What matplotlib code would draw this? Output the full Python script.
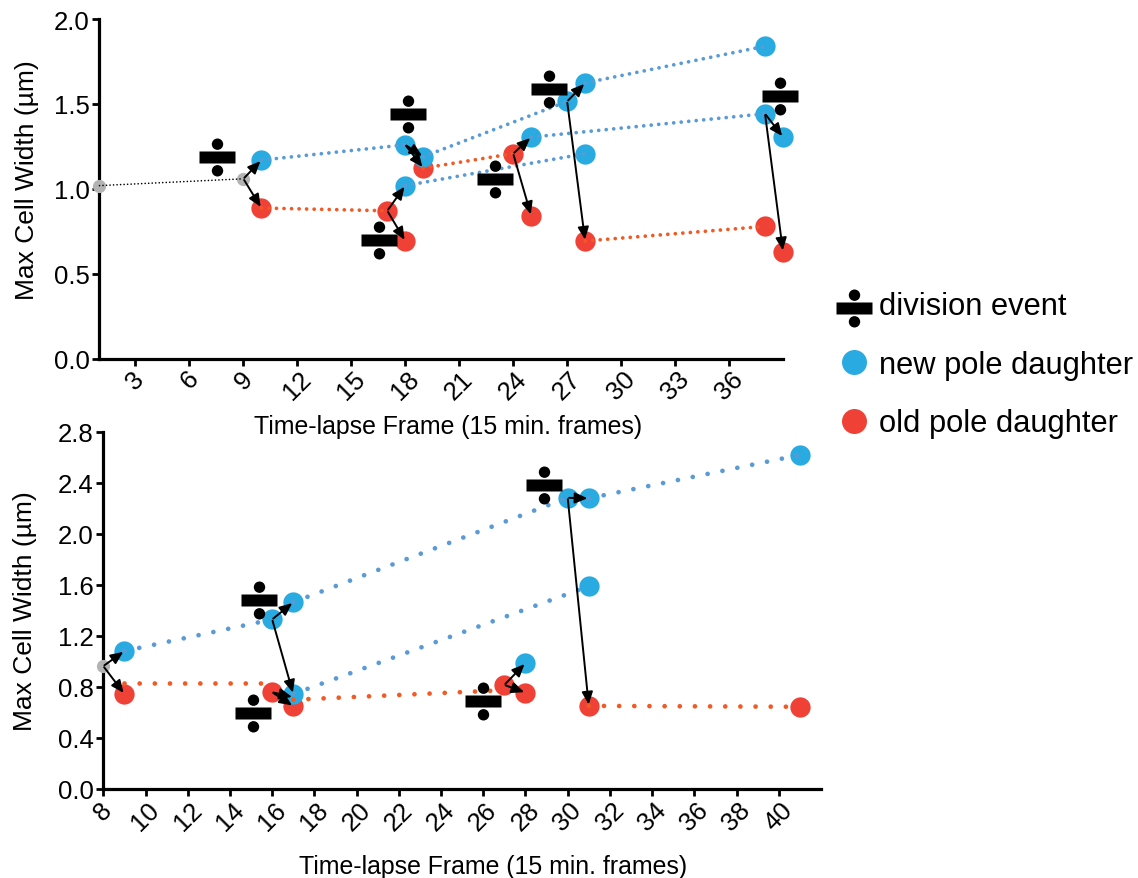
import matplotlib
matplotlib.use("Agg")
import matplotlib.pyplot as plt
from matplotlib.lines import Line2D
from matplotlib.path import Path

plt.rcParams['font.family'] = ['Liberation Sans', 'DejaVu Sans']

W, H = 1138, 879
XLABEL = "Time-lapse Frame (15 min. frames)"
YLABEL = "Max Cell Width (\u00b5m)"

# ---------- top panel ----------
top_xticks = [3, 6, 9, 12, 15, 18, 21, 24, 27, 30, 33, 36]
top_yticks = [0.0, 0.5, 1.0, 1.5, 2.0]
top_grey_x = [1, 9]
top_grey_y = [1.02, 1.06]
top_new_x = [10, 18, 18, 19, 25, 27, 28, 28, 38, 38, 39]
top_new_y = [1.17, 1.26, 1.02, 1.19, 1.305, 1.515, 1.624, 1.208, 1.84, 1.443, 1.305]
top_old_x = [10, 17, 18, 19, 24, 25, 28, 38, 39]
top_old_y = [0.888, 0.872, 0.694, 1.123, 1.208, 0.843, 0.694, 0.78, 0.631]
top_new_links = [((10, 1.17), (18, 1.26)), ((19, 1.19), (27, 1.515)),
                 ((18, 1.02), (28, 1.208)), ((25, 1.305), (38, 1.443)),
                 ((28, 1.624), (38, 1.84))]
top_old_links = [((10, 0.888), (17, 0.872)), ((19, 1.123), (24, 1.208)),
                 ((28, 0.694), (38, 0.78))]
top_arrows = [((9, 1.06), (10, 1.17)), ((9, 1.06), (10, 0.888)),
              ((17, 0.872), (18, 1.02)), ((17, 0.872), (18, 0.694)),
              ((18, 1.26), (19, 1.19)), ((18, 1.26), (19, 1.123)),
              ((24, 1.208), (25, 1.305)), ((24, 1.208), (25, 0.843)),
              ((27, 1.515), (28, 1.624)), ((27, 1.515), (28, 0.694)),
              ((38, 1.443), (39, 1.305)), ((38, 1.443), (39, 0.631))]
top_div_x = [7.55, 18.15, 16.56, 23.0, 26.0, 38.83]
top_div_y = [1.19, 1.44, 0.70, 1.057, 1.586, 1.55]

# ---------- bottom panel ----------
bot_xticks = list(range(8, 42, 2))
bot_yticks = [0.0, 0.4, 0.8, 1.2, 1.6, 2.0, 2.4, 2.8]
bot_grey_x = [8]
bot_grey_y = [0.964]
bot_new_x = [9, 16, 17, 17, 28, 30, 31, 31, 41]
bot_new_y = [1.082, 1.33, 1.465, 0.745, 0.988, 2.284, 2.28, 1.59, 2.62]
bot_old_x = [9, 16, 17, 27, 28, 31, 41]
bot_old_y = [0.745, 0.759, 0.65, 0.816, 0.756, 0.652, 0.645]
bot_new_links = [((9, 1.082), (16, 1.33)), ((17, 1.465), (30, 2.284)),
                 ((31, 2.28), (41, 2.62)), ((17, 0.745), (31, 1.59))]
bot_old_links = [((9, 0.83), (16, 0.83)), ((17, 0.70), (27, 0.775)),
                 ((31, 0.652), (41, 0.645))]
bot_arrows = [((8, 0.964), (9, 1.082)), ((8, 0.964), (9, 0.745)),
              ((16, 1.33), (17, 1.465)), ((16, 1.33), (17, 0.745)),
              ((16, 0.759), (17, 0.72)), ((16, 0.759), (17, 0.65)),
              ((27, 0.816), (28, 0.988)), ((27, 0.816), (28, 0.756)),
              ((30, 2.284), (31, 2.28)), ((30, 2.284), (31, 0.652))]
bot_div_x = [15.36, 15.1, 26.0, 28.87]
bot_div_y = [1.48, 0.597, 0.688, 2.385]

# ---------- legend ----------
legend_labels = ["division event", "new pole daughter", "old pole daughter"]

NEW_C, OLD_C, GREY_C = '#29ABE2', '#EF4136', '#B3B3B3'
NEW_L, OLD_L = '#5B9BD5', '#F15A24'


def division_marker(shift=0.0):
    """A division sign: bar plus two dots, in px-like units."""
    bar = Path([(-18, -6 + shift), (18, -6 + shift), (18, 6 + shift),
                (-18, 6 + shift), (-18, -6 + shift)],
               [Path.MOVETO, Path.LINETO, Path.LINETO, Path.LINETO, Path.CLOSEPOLY])
    c = Path.unit_circle()
    up = Path(c.vertices * 5.7 + [0, 13.3 + shift], c.codes)
    dn = Path(c.vertices * 5.7 + [0, -13.3 + shift], c.codes)
    return Path.make_compound_path(bar, up, dn)


DIV = division_marker()
DIV_MS = 2 * 19.0 * 0.72
DIV_LEG = division_marker(-5.0)
DIV_LEG_MS = 2 * 24.0 * 0.72


def px_axes(fig, l, r, t, b):
    return fig.add_axes([l / W, 1 - b / H, (r - l) / W, (b - t) / H])


def panel(ax, xlim, ylim, xticks, yticks, grey, new, old, new_links, old_links,
          arrows, div, dot_lw, dot_off, xpad, xl_x, xl_y, yl_x, yl_y):
    ax.patch.set_visible(False)
    ax.set_xlim(*xlim)
    ax.set_ylim(*ylim)
    for s in ('top', 'right'):
        ax.spines[s].set_visible(False)
    for s in ('left', 'bottom'):
        ax.spines[s].set_linewidth(2.3)
    ax.set_xticks(xticks)
    ax.set_yticks(yticks)
    ax.set_yticklabels([f"{v:.1f}" for v in yticks])
    ax.tick_params(axis='both', width=2.0, length=5, labelsize=18.5, color='k')
    ax.tick_params(axis='y', pad=2)
    ax.tick_params(axis='x', pad=xpad)
    for lab in ax.get_xticklabels():
        lab.set_rotation(45)
        lab.set_ha('center')
    ax.set_xlabel(XLABEL, fontsize=17.9)
    ax.set_ylabel(YLABEL, fontsize=19)
    ax.xaxis.set_label_coords(xl_x, xl_y)
    ax.yaxis.set_label_coords(yl_x, yl_y)

    ax.plot(*grey, 'o', color=GREY_C, ms=9.5, mew=0, clip_on=False, zorder=3)
    ax.plot(*old, 'o', color=OLD_C, ms=14.6, mew=0, clip_on=False, zorder=3)
    ax.plot(*new, 'o', color=NEW_C, ms=14.6, mew=0, clip_on=False, zorder=3.2)
    style = dict(dash_capstyle='round', clip_on=False, zorder=3.5)
    for links, col in ((new_links, NEW_L), (old_links, OLD_L)):
        for (x0, y0), (x1, y1) in links:
            ax.plot([x0, x1], [y0, y1], color=col, lw=dot_lw,
                    ls=(0, (0.01, dot_off)), **style)
    for (x0, y0), (x1, y1) in arrows:
        ax.annotate('', xy=(x1, y1), xytext=(x0, y0), zorder=5,
                    arrowprops=dict(arrowstyle='-|>,head_length=0.5,head_width=0.22',
                                    mutation_scale=15, lw=1.4, color='k',
                                    shrinkA=1, shrinkB=1))
    ax.plot(*div, ls='none', marker=DIV, ms=DIV_MS, mfc='k', mew=0,
            clip_on=False, zorder=4)


fig = plt.figure(figsize=(W / 100, H / 100), dpi=100, facecolor='white')

ax1 = px_axes(fig, 99.5, 783, 20, 360)
panel(ax1, (1, 39), (0, 2.0), top_xticks, top_yticks, (top_grey_x, top_grey_y),
      (top_new_x, top_new_y), (top_old_x, top_old_y), top_new_links, top_old_links,
      top_arrows, (top_div_x, top_div_y), 2.7, 2.0, 0, 0.51, -0.162, -0.089, 0.53)
ax1.plot(top_grey_x, top_grey_y, color='k', lw=1.2, ls=(0, (0.01, 2.1)),
         dash_capstyle='round', clip_on=False, zorder=3.5)

ax2 = px_axes(fig, 103.3, 821, 433, 790)
panel(ax2, (8, 42), (0, 2.8), bot_xticks, bot_yticks, (bot_grey_x, bot_grey_y),
      (bot_new_x, bot_new_y), (bot_old_x, bot_old_y), bot_new_links, bot_old_links,
      bot_arrows, (bot_div_x, bot_div_y), 3.4, 3.2, 1, 0.5425, -0.182, -0.092, 0.5)

handles = [
    Line2D([], [], ls='none', marker=DIV_LEG, ms=DIV_LEG_MS, mfc='k', mew=0),
    Line2D([], [], ls='none', marker='o', ms=18, mfc=NEW_C, mew=0),
    Line2D([], [], ls='none', marker='o', ms=18, mfc=OLD_C, mew=0),
]
fig.legend(handles, legend_labels, loc='upper left', frameon=False,
           bbox_to_anchor=(839 / W, 1 - 292 / H), fontsize=22.2,
           borderpad=0, borderaxespad=0, handlelength=1.0, handletextpad=0.3,
           labelspacing=0.93, numpoints=1)

fig.savefig('out.png', dpi=100, facecolor='white')
